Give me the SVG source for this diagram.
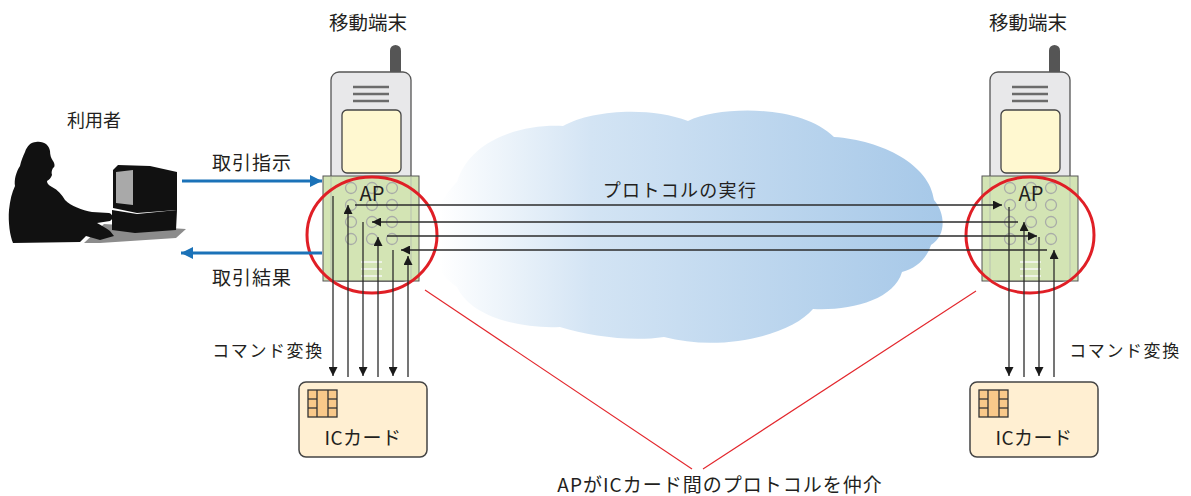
<svg xmlns="http://www.w3.org/2000/svg" xmlns:xlink="http://www.w3.org/1999/xlink" width="1191" height="496" viewBox="0 0 1191 496">
  <style>
    .t { font-family: "Noto Sans CJK JP", "Noto Sans", sans-serif; fill: #231f20; }
    .ln { stroke: #2b2b2b; stroke-width: 1.3; fill: none; }
    .blue { stroke: #1b72b8; stroke-width: 3.2; fill: none; }
    .red { stroke: #e3262c; stroke-width: 1.1; fill: none; }
    .ring { stroke: #e01f26; stroke-width: 3; fill: none; }
    .dot { stroke: #a9aca8; stroke-width: 1.3; fill: none; }
    .spk { stroke: #6b6b6b; stroke-width: 2.5; }
    .stripe { stroke: #eef3e6; stroke-width: 2; }
    .edge { stroke: #bcc6b1; stroke-width: 1.2; }
    .card { fill: #ffefd2; stroke: #444; stroke-width: 1.5; }
    .chip { fill: #f9c98a; stroke: #333; stroke-width: 1.3; }
  </style>
  <defs>
    <linearGradient id="sky" gradientUnits="userSpaceOnUse" x1="440" y1="0" x2="945" y2="0">
      <stop offset="0" stop-color="#ffffff"/>
      <stop offset="0.3" stop-color="#d3e4f4"/>
      <stop offset="1" stop-color="#a6c8e8"/>
    </linearGradient>
    <marker id="ah" viewBox="0 0 10 10" refX="10" refY="5" markerWidth="10" markerHeight="9" markerUnits="userSpaceOnUse" orient="auto">
      <path d="M0,0 L10,5 L0,10 Z" fill="#1a1a1a"/>
    </marker>
    <marker id="ahb" viewBox="0 0 10 10" refX="10" refY="5" markerWidth="12" markerHeight="12" markerUnits="userSpaceOnUse" orient="auto">
      <path d="M0,0 L10,5 L0,10 Z" fill="#1b72b8"/>
    </marker>
    <!-- handset with its AP panel -->
    <g id="handset">
      <rect x="390" y="45" width="11" height="36" rx="5.5" fill="#555"/>
      <rect x="331" y="72" width="80" height="209" rx="8" fill="#e8e8ea" stroke="#555" stroke-width="1.3"/>
      <line class="spk" x1="353" y1="87" x2="389" y2="87"/>
      <line class="spk" x1="353" y1="94" x2="389" y2="94"/>
      <line class="spk" x1="353" y1="101" x2="389" y2="101"/>
      <rect x="342" y="110" width="59" height="63" rx="5" fill="#fff8d0" stroke="#444" stroke-width="1.3"/>
      <rect x="323" y="176" width="96" height="105" fill="#d3e4b4" stroke="#555" stroke-width="1"/>
      <line class="edge" x1="331" y1="177" x2="331" y2="280"/>
      <line class="edge" x1="411" y1="177" x2="411" y2="280"/>
      <circle class="dot" cx="351" cy="188" r="5.5"/>
      <circle class="dot" cx="372" cy="188" r="5.5"/>
      <circle class="dot" cx="392" cy="188" r="5.5"/>
      <circle class="dot" cx="351" cy="205" r="5.5"/>
      <circle class="dot" cx="372" cy="205" r="5.5"/>
      <circle class="dot" cx="392" cy="205" r="5.5"/>
      <circle class="dot" cx="351" cy="222" r="5.5"/>
      <circle class="dot" cx="372" cy="222" r="5.5"/>
      <circle class="dot" cx="392" cy="222" r="5.5"/>
      <circle class="dot" cx="351" cy="239" r="5.5"/>
      <circle class="dot" cx="372" cy="239" r="5.5"/>
      <circle class="dot" cx="392" cy="239" r="5.5"/>
      <line class="stripe" x1="361" y1="262" x2="382" y2="262"/>
      <line class="stripe" x1="361" y1="269" x2="382" y2="269"/>
      <line class="stripe" x1="361" y1="276" x2="382" y2="276"/>
      <text class="t" x="372" y="201" font-size="20" text-anchor="middle">AP</text>
    </g>
    <!-- IC card with contact chip -->
    <g id="iccard">
      <rect class="card" x="299" y="382" width="128" height="75" rx="7"/>
      <rect class="chip" x="308" y="390" width="29" height="27"/>
      <line class="chip" x1="317" y1="390" x2="317" y2="417"/>
      <line class="chip" x1="328" y1="390" x2="328" y2="417"/>
      <line class="chip" x1="308" y1="399" x2="317" y2="399"/>
      <line class="chip" x1="308" y1="408" x2="317" y2="408"/>
      <line class="chip" x1="328" y1="399" x2="337" y2="399"/>
      <line class="chip" x1="328" y1="408" x2="337" y2="408"/>
      <text class="t" x="363" y="445" font-size="19" text-anchor="middle" letter-spacing="0.5">ICカード</text>
    </g>
  </defs>

  <!-- network cloud -->
  <g id="cloud">
    <path d="M457,182 C470,140 520,124 563,126 C590,110 650,106 688,121 C720,106 800,104 834,137 C882,140 930,165 934,200 C946,214 946,236 931,245 C926,260 916,268 902,272 C894,300 850,311 813,309 C790,336 720,352 664,337 C630,342 590,336 560,327 C518,329 470,316 457,287 C440,276 424,252 429,235 C432,214 445,194 457,182 Z" fill="url(#sky)"/>
  </g>

  <!-- user at a desktop computer -->
  <g id="user">
    <polygon points="84,243 104,224 186,229 176,238 100,243" fill="#8c8c8c"/>
    <polygon points="113,170 118,165 150,166 177,172 177,210 137,213 113,208" fill="#111"/>
    <polygon points="116,172 133,170 133,205 116,203" fill="#a9a9a9"/>
    <polygon points="112,210 137,214 177,210 176,230 135,233 112,230" fill="#111"/>
    <path d="M36,142 C44,141 49,145 50,151 C50,155 51,158 53,161 C55,164 55,167 53,168 C52,170 51,172 52,175 C51,178 49,180 47,181 C47,183 48,185 52,187 C58,190 62,195 65,200 C71,206 82,210 92,212 L109,213 C113,214 114,219 110,221 L97,223 C101,225 106,228 110,231 L114,236 L100,240 L86,236 L80,242 L13,243 C10,236 8,222 9,210 C10,200 12,192 15,186 C14,180 16,172 20,166 C21,161 23,156 25,152 C27,146 31,142 36,142 Z" fill="#111"/>
    <text class="t" x="94" y="127" font-size="18" text-anchor="middle">利用者</text>
  </g>

  <g id="phone-left">
    <use xlink:href="#handset"/>
    <text class="t" x="368" y="30" font-size="19.5" text-anchor="middle">移動端末</text>
  </g>
  <g id="phone-right">
    <use xlink:href="#handset" transform="translate(659,0)"/>
    <text class="t" x="1028" y="30" font-size="19.5" text-anchor="middle">移動端末</text>
  </g>

  <g id="card-left">
    <use xlink:href="#iccard"/>
  </g>
  <g id="card-right">
    <use xlink:href="#iccard" transform="translate(671,0)"/>
  </g>

  <!-- AP mediation rings -->
  <g id="ap-rings">
    <ellipse class="ring" cx="372" cy="235" rx="65" ry="58"/>
    <ellipse class="ring" cx="1030" cy="235" rx="64" ry="58"/>
  </g>

  <g id="connectors">
    <!-- user <-> handset -->
    <line class="blue" x1="182" y1="181" x2="322" y2="181" marker-end="url(#ahb)"/>
    <line class="blue" x1="322" y1="253" x2="181" y2="253" marker-end="url(#ahb)"/>
    <!-- protocol exchange between the two APs -->
    <line class="ln" x1="355" y1="205" x2="1002" y2="205" marker-end="url(#ah)"/>
    <line class="ln" x1="1018" y1="222" x2="372" y2="222" marker-end="url(#ah)"/>
    <line class="ln" x1="387" y1="236" x2="1037" y2="236" marker-end="url(#ah)"/>
    <line class="ln" x1="1047" y1="250" x2="401" y2="250" marker-end="url(#ah)"/>
    <!-- left handset <-> card -->
    <line class="ln" x1="333" y1="196" x2="333" y2="376" marker-end="url(#ah)"/>
    <line class="ln" x1="348" y1="377" x2="348" y2="205" marker-end="url(#ah)"/>
    <line class="ln" x1="363" y1="222" x2="363" y2="376" marker-end="url(#ah)"/>
    <line class="ln" x1="378" y1="377" x2="378" y2="237" marker-end="url(#ah)"/>
    <line class="ln" x1="393" y1="250" x2="393" y2="376" marker-end="url(#ah)"/>
    <line class="ln" x1="408" y1="377" x2="408" y2="256" marker-end="url(#ah)"/>
    <!-- right handset <-> card -->
    <line class="ln" x1="1009" y1="207" x2="1009" y2="376" marker-end="url(#ah)"/>
    <line class="ln" x1="1024" y1="377" x2="1024" y2="222" marker-end="url(#ah)"/>
    <line class="ln" x1="1039" y1="237" x2="1039" y2="376" marker-end="url(#ah)"/>
    <line class="ln" x1="1054" y1="377" x2="1054" y2="250" marker-end="url(#ah)"/>
    <!-- callout to caption -->
    <line class="red" x1="425" y1="290" x2="692" y2="469"/>
    <line class="red" x1="976" y1="291" x2="703" y2="469"/>
  </g>

  <g id="labels">
    <text class="t" x="252" y="170" font-size="19" text-anchor="middle" letter-spacing="1">取引指示</text>
    <text class="t" x="252" y="285" font-size="19" text-anchor="middle" letter-spacing="1">取引結果</text>
    <text class="t" x="680" y="197" font-size="18" text-anchor="middle" letter-spacing="1.3">プロトコルの実行</text>
    <text class="t" x="268" y="357" font-size="17" text-anchor="middle" letter-spacing="1.6">コマンド変換</text>
    <text class="t" x="1125" y="357" font-size="17" text-anchor="middle" letter-spacing="1.6">コマンド変換</text>
    <text class="t" x="720" y="492" font-size="19" text-anchor="middle" letter-spacing="1">APがICカード間のプロトコルを仲介</text>
  </g>
</svg>
